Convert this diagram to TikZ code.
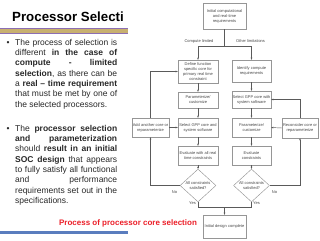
\documentclass[tikz,border=0pt]{standalone}
\usepackage{fontspec}
\setmainfont{Liberation Sans}
\usetikzlibrary{shapes.geometric,arrows.meta}
\definecolor{barGold}{RGB}{200,176,112}
\definecolor{barPurple}{RGB}{140,110,180}
\definecolor{barBlue}{RGB}{90,125,190}
\definecolor{capRed}{RGB}{235,30,40}
\definecolor{lineGray}{RGB}{90,90,90}
\definecolor{boxGray}{RGB}{150,150,150}
\definecolor{fcText}{RGB}{70,70,70}
\definecolor{bodyText}{RGB}{40,40,40}
\tikzset{
  fcnode/.style={draw=boxGray, line width=0.45pt, text=fcText, font=\fontsize{4}{5}\selectfont, align=center, inner sep=0pt},
  fcdia/.style={diamond, draw=boxGray, line width=0.45pt, text=fcText, font=\fontsize{4}{5}\selectfont, align=center, inner sep=0pt, minimum width=36pt, minimum height=25pt},
  fcconn/.style={draw=lineGray, line width=0.45pt},
  fcarr/.style={draw=lineGray, line width=0.45pt, -{Stealth[length=2.2pt,width=1.8pt]}},
  fclbl/.style={font=\fontsize{4}{5}\selectfont, text=fcText, inner sep=0pt},
  bodytxt/.style={anchor=north west, inner sep=0pt, text width=102pt, align=justify, text=bodyText, font=\fontsize{8.5}{10.3}\selectfont},
  bullet/.style={anchor=base, inner sep=0pt, text=bodyText, font=\fontsize{8.5}{10.3}\selectfont}
}
\begin{document}
\begin{tikzpicture}[x=1pt,y=-1pt]
\useasboundingbox (0,0) rectangle (320,240);
% title and bars
\node[anchor=base west, inner sep=0pt, font=\fontsize{13.3}{15}\selectfont\bfseries] (title) at (12,21.7) {Processor Selecti};
\fill[barPurple] (0,28) rectangle (128,29);
\fill[barGold] (0,29) rectangle (128,33.5);
\fill[barPurple] (0,33.5) rectangle (128,34.5);
\fill[barBlue] (0,231) rectangle (128,234.3);
% body text
\hyphenpenalty=10000
\node[bullet] (bul1) at (8,45.2) {•};
\node[bodytxt] (b1) at (15,39) {The process of selection is\linebreak different \textbf{in the case of}\linebreak \textbf{compute - limited}\linebreak \textbf{selection}, as there can be\linebreak a \textbf{real – time requirement}\linebreak that must be met by one of\linebreak the selected processors.};
\node[bullet] (bul2) at (8,131.2) {•};
\node[bodytxt] (b2) at (15,125) {The \textbf{processor selection}\linebreak \textbf{and parameterization}\linebreak should \textbf{result in an initial}\linebreak \textbf{SOC design} that appears\linebreak to fully satisfy all functional\linebreak and performance\linebreak requirements set out in the\linebreak specifications.};
% caption
\node[anchor=base, inner sep=0pt, text=capRed, font=\fontsize{8}{10}\selectfont\bfseries] (cap) at (128,225.5) {Process of processor core selection};
% flowchart boxes
\node[fcnode, minimum width=43pt, minimum height=26pt] (init) at (224.5,16) {Initial computational\\and real-time\\requirements};
\node[fcnode, minimum width=40pt, minimum height=23pt] (def) at (198,71.5) {Define function\\specific core for\\primary real time\\constraint};
\node[fcnode, minimum width=39pt, minimum height=22pt] (ident) at (251.5,71) {Identify compute\\requirements};
\node[fcnode, minimum width=40pt, minimum height=16pt] (par1) at (198,100) {Parameterize/\\customize};
\node[fcnode, minimum width=39pt, minimum height=17pt] (sel2) at (251.5,99.5) {Select GPP core with\\system software};
\node[fcnode, minimum width=37pt, minimum height=19pt] (add) at (150.5,127.5) {Add another core or\\reparameterize};
\node[fcnode, minimum width=40pt, minimum height=19pt] (sel1) at (198,127.5) {Select GPP core and\\system software};
\node[fcnode, minimum width=39pt, minimum height=19pt] (par2) at (251.5,127.5) {Parameterize/\\customize};
\node[fcnode, minimum width=36pt, minimum height=20pt] (recon) at (300,128) {Reconsider core or\\reparameterize};
\node[fcnode, minimum width=40pt, minimum height=19pt] (eval1) at (198,155.5) {Evaluate with all real\\time constraints};
\node[fcnode, minimum width=39pt, minimum height=19pt] (eval2) at (251.5,155.5) {Evaluate\\constraints};
\node[fcdia] (d1) at (198,185.5) {All constraints\\satisfied?};
\node[fcdia] (d2) at (251.5,185.5) {All constraints\\satisfied?};
\node[fcnode, minimum width=43pt, minimum height=23pt] (final) at (224.5,226.5) {Initial design complete};
% labels
\node[fclbl] (lcl) at (199,41) {Compute limited};
\node[fclbl] (lol) at (250.5,41) {Other limitations};
\node[fclbl] (no1) at (174.5,192) {No};
\node[fclbl] (no2) at (274.5,192) {No};
\node[fclbl] (yes1) at (192.5,203) {Yes};
\node[fclbl] (yes2) at (256.5,203) {Yes};
% connectors
\coordinate (split) at (224.5,46);
\coordinate (join) at (224.5,207);
\draw[fcconn] (init.south) -- (split);
\draw[fcarr] (split) -| (def.north);
\draw[fcarr] (split) -| (ident.north);
\draw[fcarr] (def) -- (par1);
\draw[fcarr] (par1) -- (sel1);
\draw[fcarr] (sel1) -- (eval1);
\draw[fcarr] (eval1) -- (d1);
\draw[fcarr] (ident) -- (sel2);
\draw[fcarr] (sel2) -- (par2);
\draw[fcarr] (par2) -- (eval2);
\draw[fcarr] (eval2) -- (d2);
\draw[fcarr] (d1.west) -| (add.south);
\draw[fcarr] (add.east) -- (sel1.west);
\draw[fcarr] (add.north) |- (def.west);
\draw[fcarr] (d2.east) -| (recon.south);
\draw[fcarr] (recon.west) -- (par2.east);
\draw[fcarr] (recon.north) |- (sel2.east);
\draw[fcconn] (d1.south) |- (join);
\draw[fcconn] (d2.south) |- (join);
\draw[fcarr] (join) -- (final.north);
\end{tikzpicture}
\end{document}
